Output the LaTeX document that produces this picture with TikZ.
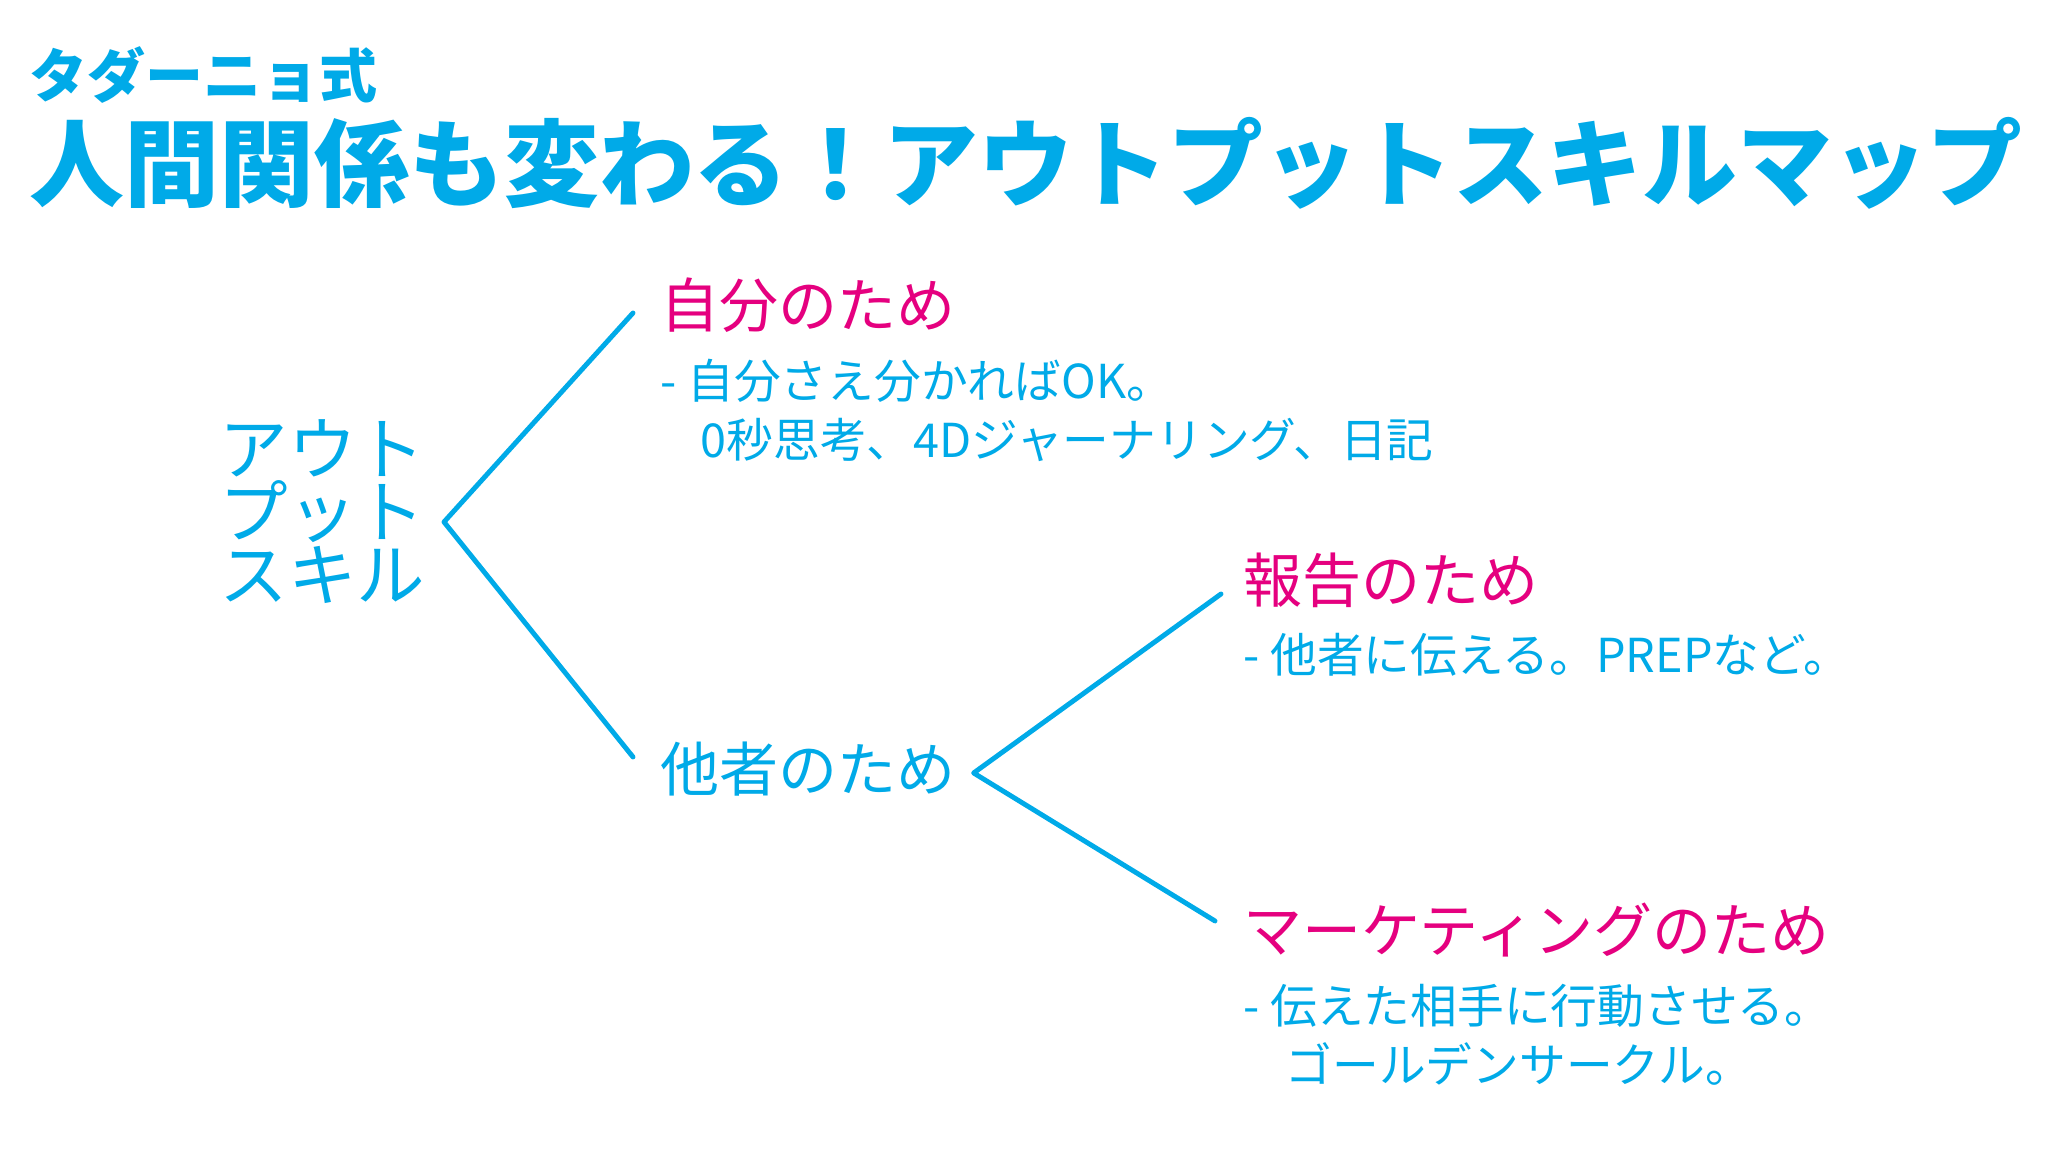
\documentclass[tikz,border=0pt]{standalone}
\usepackage{fontspec}
\setmainfont{Noto Sans CJK JP}
\definecolor{skyblue}{RGB}{0,170,232}
\definecolor{pinkred}{RGB}{229,0,127}
\tikzset{
  branch/.style={skyblue, line width=1.4pt, line cap=round, line join=round},
  heading/.style={anchor=west, inner sep=0pt, font=\fontsize{16.8pt}{20pt}\selectfont},
  note/.style={anchor=west, inner sep=0pt, align=left, text=skyblue, font=\fontsize{13.3pt}{16.8pt}\selectfont},
}
\begin{document}
\begin{tikzpicture}
\useasboundingbox[fill=white] (0,0) rectangle (20.48,11.52);
\node[anchor=west, inner sep=0pt, text=skyblue, font=\bfseries\fontsize{16.5pt}{20pt}\selectfont] (sub) at (0.29,10.77) {タダーニョ式};
\node[anchor=west, inner sep=0pt, text=skyblue, font=\bfseries\fontsize{27pt}{32pt}\selectfont] (title) at (0.29,9.89) {人間関係も変わる！アウトプットスキルマップ};
\node[anchor=west, inner sep=0pt, align=left, text=skyblue, font=\fontsize{19.5pt}{16.8pt}\selectfont] (skill) at (2.19,6.40) {アウト\\プット\\スキル};
% for oneself
\node[heading, text=pinkred] (self) at (6.60,8.47) {自分のため};
\node[note] (selfnote) at (6.60,7.42) {-~自分さえ分かればOK。\\\hspace*{0.4cm}0秒思考、4Dジャーナリング、日記};
% for others
\node[heading, text=skyblue] (others) at (6.60,3.83) {他者のため};
\node[heading, text=pinkred] (report) at (12.43,5.72) {報告のため};
\node[note] (reportnote) at (12.43,4.97) {-~他者に伝える。PREPなど。};
\node[heading, text=pinkred] (mkt) at (12.43,2.22) {マーケティングのため};
\node[note] (mktnote) at (12.43,1.17) {-~伝えた相手に行動させる。\\\hspace*{0.42cm}ゴールデンサークル。};
% the forks
\coordinate (fork1) at (4.44,6.30);
\coordinate (fork2) at ([shift={(0.17,-0.04)}]others.east);
\draw[branch] ([shift={(-0.27,-0.08)}]self.west) -- (fork1) -- ([shift={(-0.27,0.12)}]others.west);
\draw[branch] ([shift={(-0.22,-0.14)}]report.west) -- (fork2) -- ([shift={(-0.28,0.09)}]mkt.west);
\end{tikzpicture}
\end{document}
